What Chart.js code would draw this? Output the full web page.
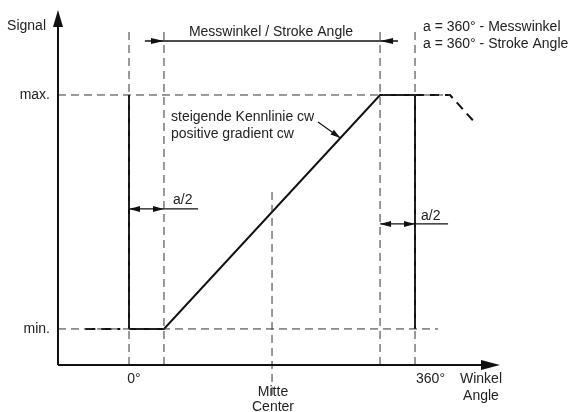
<!DOCTYPE html>
<html>
<head>
<meta charset="utf-8">
<script src="https://cdn.jsdelivr.net/npm/chart.js@4"></script>
<style>
  html, body { margin: 0; padding: 0; background: #fff; }
  #wrap { width: 572px; height: 412px; }
</style>
</head>
<body>
<div id="wrap"><canvas id="myChart"></canvas></div>
<script>

// characteristic curve (angle in degrees, signal 0 = min, 1 = max)
const curveAngle = [0, 44, 316, 360];
const curveSignal = [0, 0, 1, 1];
// solid flanks at 0° and 360°
const edgeAngles = [0, 360];
// dashed vertical guides
const guideAngles = [0, 44, 316, 360];
const centerAngle = 180;
// dashed continuation after 360°
const tailAngle = [360, 404, 436];
const tailSignal = [1, 1, 0.88];
// signal levels
const levelSignal = [0, 1];
const levelLabels = ['min.', 'max.'];
const levelEnd = [389, 404];
// angle tick labels
const tickAngles = [0, 180, 360];
const tickLabels = [['0°'], ['Mitte', 'Center'], ['360°']];

const AX_X = -89.4, AX_Y = -0.154;   // axis origin
const GUIDE_TOP = 1.27;

const pts = (xs, ys) => xs.map((v, i) => ({ x: v, y: ys[i] }));

const datasets = [];
const add = (data, opt) => datasets.push(Object.assign({
  data, borderColor: '#111', borderWidth: 1, pointRadius: 0, showLine: true, fill: false,
}, opt));

// axes
add(pts([AX_X, AX_X], [AX_Y, 1.34]), { borderWidth: 2 });
add(pts([AX_X, 455], [AX_Y, AX_Y]), { borderWidth: 2 });

// level guides
levelSignal.forEach((s, i) => add(pts([AX_X, levelEnd[i]], [s, s]), { borderDash: [8, 5], borderColor: '#333' }));
add(pts([-55, -11], [0, 0]), { borderDash: [10, 6], borderWidth: 2 });

// vertical guides
guideAngles.forEach(a => add(pts([a, a], [AX_Y, GUIDE_TOP]), { borderDash: [8, 5], borderColor: '#333' }));
add(pts([centerAngle, centerAngle], [-0.282, 0.607]), { borderDash: [8, 5], borderColor: '#333' });

// curve
add(pts(curveAngle, curveSignal), { borderWidth: 2 });
edgeAngles.forEach(a => add(pts([a, a], [0, 1]), { borderWidth: 2 }));
add(pts(tailAngle, tailSignal), { borderWidth: 2, borderDash: [9, 6] });

// dimension lines
add(pts([20, 338.6], [1.231, 1.231]), { borderWidth: 1.5 });
add(pts([0, 87], [0.513, 0.513]), { borderWidth: 1.2 });
add(pts([316, 401.6], [0.449, 0.449]), { borderWidth: 1.2 });

const annotations = {
  id: 'annotations',
  afterDatasetsDraw(chart) {
    const { ctx, scales: { x, y } } = chart;
    const px = v => x.getPixelForValue(v);
    const py = v => y.getPixelForValue(v);

    const arrow = (tx, ty, dx, dy, len, half) => {
      const n = Math.hypot(dx, dy); dx /= n; dy /= n;
      ctx.beginPath();
      ctx.moveTo(tx, ty);
      ctx.lineTo(tx - dx * len - dy * half, ty - dy * len + dx * half);
      ctx.lineTo(tx - dx * len + dy * half, ty - dy * len - dx * half);
      ctx.closePath();
      ctx.fill();
    };

    ctx.save();
    ctx.fillStyle = '#111';
    arrow(px(AX_X), 10, 0, -1, 17, 5);
    arrow(500, py(AX_Y), 1, 0, 19, 5);
    arrow(px(44), py(1.231), 1, 0, 13, 3);
    arrow(px(316), py(1.231), -1, 0, 13, 3);
    arrow(px(0), py(0.513), -1, 0, 11, 3);
    arrow(px(44), py(0.513), 1, 0, 11, 3);
    arrow(px(316), py(0.449), -1, 0, 11, 3);
    arrow(px(360), py(0.449), 1, 0, 11, 3);

    // leader to the curve
    const lx = 266, ly = (lx - 44) / 272;
    ctx.strokeStyle = '#111';
    ctx.lineWidth = 1.2;
    ctx.beginPath();
    ctx.moveTo(318, 122);
    ctx.lineTo(px(lx), py(ly));
    ctx.stroke();
    arrow(px(lx), py(ly), px(lx) - 318, py(ly) - 122, 10, 3);

    ctx.font = '14px "Liberation Sans", Arial, sans-serif';
    ctx.textBaseline = 'middle';
    ctx.fillStyle = '#222';

    ctx.textAlign = 'right';
    ctx.fillText('Signal', 46, 26);
    levelSignal.forEach((s, i) => ctx.fillText(levelLabels[i], 50, py(s)));

    ctx.textAlign = 'center';
    ctx.fillText(tickLabels[0][0], px(tickAngles[0]) + 5, 379);
    tickLabels[1].forEach((t, j) => ctx.fillText(t, px(tickAngles[1]) + 1, 392 + j * 15));
    ctx.textAlign = 'left';
    ctx.fillText(tickLabels[2][0], px(tickAngles[2]) + 1, 379);

    ctx.textAlign = 'center';
    ctx.fillText('Winkel', 481, 379);
    ctx.fillText('Angle', 481, 396);
    ctx.fillText('Messwinkel / Stroke Angle', 271, 32);

    ctx.textAlign = 'left';
    ctx.fillText('a = 360° - Messwinkel', 423, 27);
    ctx.fillText('a = 360° - Stroke Angle', 423, 44);
    ctx.fillText('steigende Kennlinie cw', 171, 117);
    ctx.fillText('positive gradient cw', 171, 134);
    ctx.fillText('a/2', 173, 200);
    ctx.fillText('a/2', 421, 216);
    ctx.restore();
  }
};

new Chart(document.getElementById('myChart'), {
  type: 'scatter',
  data: { datasets },
  options: {
    responsive: true,
    maintainAspectRatio: false,
    animation: false,
    layout: { padding: 0 },
    scales: {
      x: { type: 'linear', min: -162.4, max: 557.6, display: false },
      y: { type: 'linear', min: -0.355, max: 1.406, display: false },
    },
    plugins: {
      legend: { display: false },
      tooltip: { enabled: false },
    },
  },
  plugins: [annotations],
});
</script>
</body>
</html>
